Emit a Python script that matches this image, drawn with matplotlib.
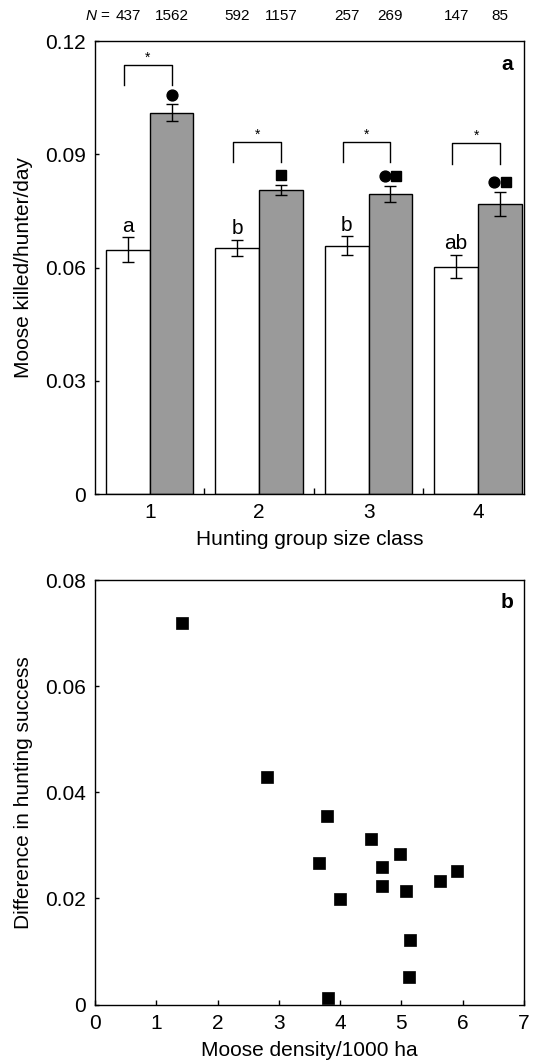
import matplotlib
matplotlib.use("Agg")
import matplotlib.pyplot as plt
import matplotlib.transforms as mtransforms
import numpy as np

plt.rcParams['font.family'] = ['Liberation Sans', 'DejaVu Sans']
plt.rcParams['mathtext.fontset'] = 'custom'
plt.rcParams['mathtext.it'] = 'Liberation Sans:italic'
plt.rcParams['mathtext.rm'] = 'Liberation Sans'

# ---------------- data: panel a ----------------
classes = [1, 2, 3, 4]
white_mean = [0.0647, 0.0653, 0.0658, 0.0603]
white_se = [0.0033, 0.0021, 0.0025, 0.0031]
grey_mean = [0.1011, 0.0806, 0.0795, 0.0769]
grey_se = [0.0022, 0.0013, 0.0022, 0.0031]
white_n = [437, 592, 257, 147]
grey_n = [1562, 1157, 269, 85]
white_letters = ['a', 'b', 'b', 'ab']
grey_symbols = [['o'], ['s'], ['o', 's'], ['o', 's']]
yticks_a = [0, 0.03, 0.06, 0.09, 0.12]
yticklabels_a = ['0', '0.03', '0.06', '0.09', '0.12']

# ---------------- data: panel b ----------------
density = [1.42, 2.80, 3.79, 4.51, 4.97, 3.65, 4.68, 5.90, 5.63, 4.69, 5.08, 4.00, 5.14, 5.12, 3.81]
diff_success = [0.0719, 0.0428, 0.0355, 0.0312, 0.0283, 0.0267, 0.0260, 0.0251,
                0.0233, 0.0223, 0.0213, 0.0198, 0.0122, 0.0051, 0.0013]
xticks_b = [0, 1, 2, 3, 4, 5, 6, 7]
yticks_b = [0, 0.02, 0.04, 0.06, 0.08]
yticklabels_b = ['0', '0.02', '0.04', '0.06', '0.08']

# layout-only values
bar_w = 0.4
bracket_top = [0.1138, 0.0933, 0.0934, 0.0930]
bracket_leg = 0.0054
GREY = '#9a9a9a'
TICK_FS = 15
LABEL_FS = 15
N_FS = 11

fig = plt.figure(figsize=(5.33, 10.61), dpi=100)
ax1 = fig.add_axes([95/533, 1 - 494/1061, 429/533, (494 - 41.3)/1061])
ax2 = fig.add_axes([95/533, 1 - 1004.5/1061, 429/533, (1004.5 - 580)/1061])

# ---------------- panel a ----------------
x = np.array(classes, dtype=float)
xw = x - bar_w/2
xg = x + bar_w/2
ax1.bar(xw, white_mean, width=bar_w, color='white', edgecolor='black', linewidth=1.0, zorder=2)
ax1.bar(xg, grey_mean, width=bar_w, color=GREY, edgecolor='black', linewidth=1.0, zorder=2)
ax1.errorbar(xw, white_mean, yerr=white_se, fmt='none', ecolor='black', elinewidth=1.0,
             capsize=4.5, capthick=1.0, zorder=3)
ax1.errorbar(xg, grey_mean, yerr=grey_se, fmt='none', ecolor='black', elinewidth=1.0,
             capsize=4.5, capthick=1.0, zorder=3)

ax1.set_xlim(0.5, 4.42)
ax1.set_ylim(0, 0.12)
ax1.set_yticks(yticks_a)
ax1.set_yticklabels(yticklabels_a)
ax1.set_xticks(classes)
ax1.set_xticks([1.5, 2.5, 3.5], minor=True)
ax1.tick_params(axis='x', which='major', length=0, pad=6.5, labelsize=TICK_FS)
ax1.tick_params(axis='x', which='minor', direction='in', length=4.5, width=1.0)
ax1.tick_params(axis='y', direction='in', length=3, width=1.0, pad=6.5, labelsize=TICK_FS)
ax1.set_xlabel('Hunting group size class', fontsize=LABEL_FS, labelpad=6)
ax1.set_ylabel('Moose killed/hunter/day', fontsize=LABEL_FS)
ax1.yaxis.set_label_coords(-0.145, 0.5)

# letters above white bars
for xi, m, s, lab in zip(xw, white_mean, white_se, white_letters):
    ax1.annotate(lab, (xi, m + s), xytext=(0, 4), textcoords='offset points',
                 ha='center', va='baseline', fontsize=TICK_FS)

# symbols above grey bars
for xi, m, s, syms in zip(xg, grey_mean, grey_se, grey_symbols):
    n = len(syms)
    offs = [0.0] if n == 1 else [-4.2, 4.2]
    for sym, ox in zip(syms, offs):
        ms = 7.8 if sym == 'o' else 7.2
        tr = ax1.transData + mtransforms.ScaledTranslation(ox/72, 7.0/72, fig.dpi_scale_trans)
        ax1.plot([xi], [m + s], marker=sym, ms=ms, color='black', mec='black',
                 linestyle='none', transform=tr, clip_on=False, zorder=4)

# significance brackets
for xi_w, xi_g, top in zip(xw, xg, bracket_top):
    xl = xi_w - 0.035
    ax1.plot([xl, xl, xi_g, xi_g], [top - bracket_leg, top, top, top - bracket_leg],
             color='black', linewidth=1.0, zorder=3)
    ax1.text((xl + xi_g)/2, top, '*', ha='center', va='bottom', fontsize=10)

# N row
ny = 0.1266
ax1.text(0.645, ny, r'$\mathit{N}$ =', ha='right', va='center', fontsize=N_FS, clip_on=False)
for xi, n in zip(xw, white_n):
    ax1.text(xi, ny, str(n), ha='center', va='center', fontsize=N_FS, clip_on=False)
for xi, n in zip(xg, grey_n):
    ax1.text(xi, ny, str(n), ha='center', va='center', fontsize=N_FS, clip_on=False)

ax1.text(0.960, 0.948, 'a', transform=ax1.transAxes, ha='center', va='center',
         fontsize=15, fontweight='bold')

# ---------------- panel b ----------------
ax2.plot(density, diff_success, linestyle='none', marker='s', ms=9, color='black',
         mec='black', mew=0.5, clip_on=False, zorder=3)
ax2.set_xlim(0, 7)
ax2.set_ylim(0, 0.08)
ax2.set_xticks(xticks_b)
ax2.set_yticks(yticks_b)
ax2.set_yticklabels(yticklabels_b)
ax2.tick_params(axis='x', direction='in', length=3.5, width=1.0, pad=7.0, labelsize=TICK_FS)
ax2.tick_params(axis='y', direction='in', length=3, width=1.0, pad=6.5, labelsize=TICK_FS)
ax2.set_xlabel('Moose density/1000 ha', fontsize=LABEL_FS, labelpad=5.5)
ax2.set_ylabel('Difference in hunting success', fontsize=LABEL_FS)
ax2.yaxis.set_label_coords(-0.145, 0.5)
ax2.text(0.960, 0.948, 'b', transform=ax2.transAxes, ha='center', va='center',
         fontsize=15, fontweight='bold')

for ax in (ax1, ax2):
    for sp in ax.spines.values():
        sp.set_linewidth(1.0)
        sp.set_color('black')

fig.savefig('out.png', dpi=100)
